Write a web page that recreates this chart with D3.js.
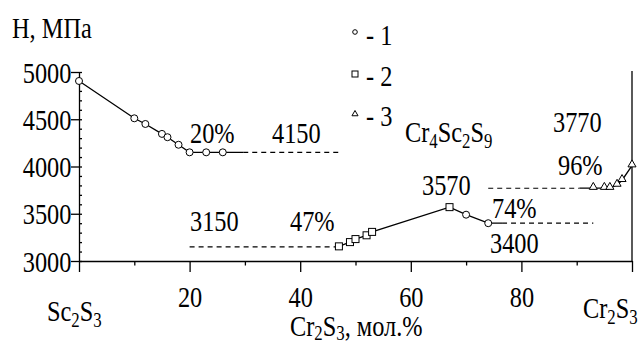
<!DOCTYPE html>
<html>
<head>
<meta charset="utf-8">
<script src="https://cdn.jsdelivr.net/npm/d3@7"></script>
<style>
    body { margin: 0; background: #fff; }
    svg { display: block; }
    text { font-family: "Liberation Serif", "Times New Roman", serif; fill: #000; }
</style>
</head>
<body>
<svg></svg>
<script>
// hardness vs composition, Sc2S3 - Cr2S3
let circleX = [0, 10, 12, 15, 16, 18, 20, 23, 26, 70, 74]
let circleH = [4905, 4510, 4450, 4345, 4310, 4230, 4150, 4150, 4150, 3490, 3400]
let squareX = [47, 49, 50, 52, 53, 67]
let squareH = [3155, 3200, 3232, 3272, 3308, 3570]
let triangleX = [93, 95, 96, 97.3, 98.2, 100]
let triangleH = [3772, 3772, 3772, 3805, 3855, 4010]

let leftCurveX = [0, 10, 12, 15, 16, 18, 20, 23, 26, 29.7]
let leftCurveH = [4905, 4510, 4450, 4345, 4310, 4230, 4150, 4150, 4150, 4150]
let midCurveX = [47, 49, 50, 52, 53, 67, 70, 74, 76.5]
let midCurveH = [3155, 3200, 3232, 3272, 3308, 3570, 3490, 3400, 3400]
let rightCurveX = [90.5, 93, 95, 96, 97.3, 98.2, 100]
let rightCurveH = [3772, 3772, 3772, 3772, 3805, 3855, 4010]

let levelH = [4150, 3150, 3400, 3770]
let levelFrom = [29.7, 20, 76.5, 74]
let levelTo = [47, 47, 93, 90.5]

let xMajor = [0, 20, 40, 60, 80, 100]
let xMinor = [10, 30, 50, 70, 90]
let yMajor = [3000, 3500, 4000, 4500, 5000]
let yMinor = d3.range(3000, 5001, 100)

let width = 641
let height = 345
let fs = 29
let squeeze = 0.84
let serif = '"Liberation Serif", "Times New Roman", serif'

let svg = d3.select('svg')
    .attr('width', width)
    .attr('height', height)

let x = d3.scaleLinear().domain([0, 100]).range([79, 632])
let y = d3.scaleLinear().domain([3000, 5000]).range([261, 72])

let zip = (xs, hs) => xs.map((d, i) => [d, hs[i]])

// text helper: plain strings are normal, [string] is a subscript
let label = (px, py, parts, anchor, drop) => {
    let sub = drop || 6
    let t = svg.append('text')
        .attr('transform', 'translate(' + px + ',' + py + ') scale(' + squeeze + ',1)')
        .attr('text-anchor', anchor || 'start')
        .attr('font-size', fs)
    let low = false
    parts.forEach((p) => {
        if (typeof p === 'string') {
            t.append('tspan').attr('dy', low ? -sub : 0).text(p)
            low = false
        } else {
            t.append('tspan').attr('font-size', 20).attr('dy', low ? 0 : sub).text(p[0])
            low = true
        }
    })
    return t
}

let drawAxes = () => {
    let xAxis = d3.axisBottom(x)
        .tickValues(xMajor)
        .tickSize(11)
        .tickSizeOuter(0)
        .tickFormat((d) => (d === 0 || d === 100) ? '' : d)
    let gx = svg.append('g')
        .attr('transform', 'translate(0,' + y(3000) + ')')
        .call(xAxis)
        .attr('font-family', serif)
    gx.selectAll('text')
        .attr('y', 46)
        .attr('dy', 0)
        .attr('font-size', fs)
        .attr('transform', 'scale(' + squeeze + ',1)')

    svg.append('g')
        .attr('transform', 'translate(0,' + y(3000) + ')')
        .call(d3.axisBottom(x).tickValues(xMinor).tickSize(4.5).tickSizeOuter(0).tickFormat(''))
        .select('.domain').remove()

    let yAxis = d3.axisLeft(y)
        .tickValues(yMajor)
        .tickSize(8)
        .tickSizeOuter(0)
        .tickPadding(1)
        .tickFormat(d3.format('d'))
    let gy = svg.append('g')
        .attr('transform', 'translate(' + x(0) + ',0)')
        .call(yAxis)
        .attr('font-family', serif)
    gy.selectAll('text')
        .attr('dy', 10)
        .attr('font-size', fs)
        .attr('transform', 'scale(' + squeeze + ',1)')

    svg.append('g')
        .attr('transform', 'translate(' + x(0) + ',0)')
        .call(d3.axisRight(y).tickValues(yMinor).tickSize(3).tickSizeOuter(0).tickFormat(''))
        .select('.domain').remove()

    svg.append('line')
        .attr('x1', x(100)).attr('x2', x(100))
        .attr('y1', y(5000) - 1).attr('y2', y(3000))
        .attr('stroke', '#000')
        .attr('stroke-width', 1.3)

    svg.selectAll('.domain, .tick line')
        .attr('stroke', '#000')
        .attr('stroke-width', 1.3)
}

let drawLines = () => {
    let line = d3.line().x((d) => x(d[0])).y((d) => y(d[1]))

    svg.selectAll('.curve')
        .data([zip(leftCurveX, leftCurveH), zip(midCurveX, midCurveH), zip(rightCurveX, rightCurveH)])
        .enter()
        .append('path')
        .attr('class', 'curve')
        .attr('d', line)
        .attr('fill', 'none')
        .attr('stroke', '#000')
        .attr('stroke-width', 1.3)

    svg.selectAll('.level')
        .data(levelH)
        .enter()
        .append('line')
        .attr('class', 'level')
        .attr('x1', (d, i) => x(levelFrom[i]))
        .attr('x2', (d, i) => x(levelTo[i]))
        .attr('y1', (d) => y(d))
        .attr('y2', (d) => y(d))
        .attr('stroke', '#000')
        .attr('stroke-width', 1.2)
        .attr('stroke-dasharray', '5,4')
}

let drawMarkers = () => {
    svg.selectAll('.circ')
        .data(zip(circleX, circleH))
        .enter()
        .append('circle')
        .attr('class', 'circ')
        .attr('cx', (d) => x(d[0]))
        .attr('cy', (d) => y(d[1]))
        .attr('r', 3.5)
        .attr('fill', '#fff')
        .attr('stroke', '#000')
        .attr('stroke-width', 1)

    svg.selectAll('.sq')
        .data(zip(squareX, squareH))
        .enter()
        .append('rect')
        .attr('class', 'sq')
        .attr('x', (d) => x(d[0]) - 3.5)
        .attr('y', (d) => y(d[1]) - 3.5)
        .attr('width', 7)
        .attr('height', 7)
        .attr('fill', '#fff')
        .attr('stroke', '#000')
        .attr('stroke-width', 1)

    let tri = d3.symbol().type(d3.symbolTriangle).size(28)
    svg.selectAll('.tri')
        .data(zip(triangleX, triangleH))
        .enter()
        .append('path')
        .attr('class', 'tri')
        .attr('d', tri)
        .attr('transform', (d) => 'translate(' + x(d[0]) + ',' + (y(d[1]) - 1) + ')')
        .attr('fill', '#fff')
        .attr('stroke', '#000')
        .attr('stroke-width', 1)
}

let drawLegend = () => {
    svg.append('circle')
        .attr('cx', 355).attr('cy', 32).attr('r', 2.3)
        .attr('fill', '#fff').attr('stroke', '#000')
    svg.append('rect')
        .attr('x', 352).attr('y', 71).attr('width', 6).attr('height', 6)
        .attr('fill', '#fff').attr('stroke', '#000')
    svg.append('path')
        .attr('d', d3.symbol().type(d3.symbolTriangle).size(16))
        .attr('transform', 'translate(355,114)')
        .attr('fill', '#fff').attr('stroke', '#000')

    label(366, 45, ['- 1'])
    label(366, 86, ['- 2'])
    label(366, 126, ['- 3'])
}

let drawLabels = () => {
    label(12, 38, ['H, МПа'])
    label(47, 321, ['Sc', ['2'], 'S', ['3']])
    label(583, 318, ['Cr', ['2'], 'S', ['3']])
    label(290, 336, ['Cr', ['2'], 'S', ['3'], ', мол.%'], 'start', 4)
    label(405, 142, ['Cr', ['4'], 'Sc', ['2'], 'S', ['9']])

    label(190, 143, ['20%'])
    label(272, 143, ['4150'])
    label(190, 231, ['3150'])
    label(290, 231, ['47%'])
    label(422, 195, ['3570'])
    label(492, 218, ['74%'])
    label(490, 253, ['3400'])
    label(553, 132, ['3770'])
    label(558, 175, ['96%'])
}

drawAxes()
drawLines()
drawMarkers()
drawLegend()
drawLabels()
</script>
</body>
</html>
